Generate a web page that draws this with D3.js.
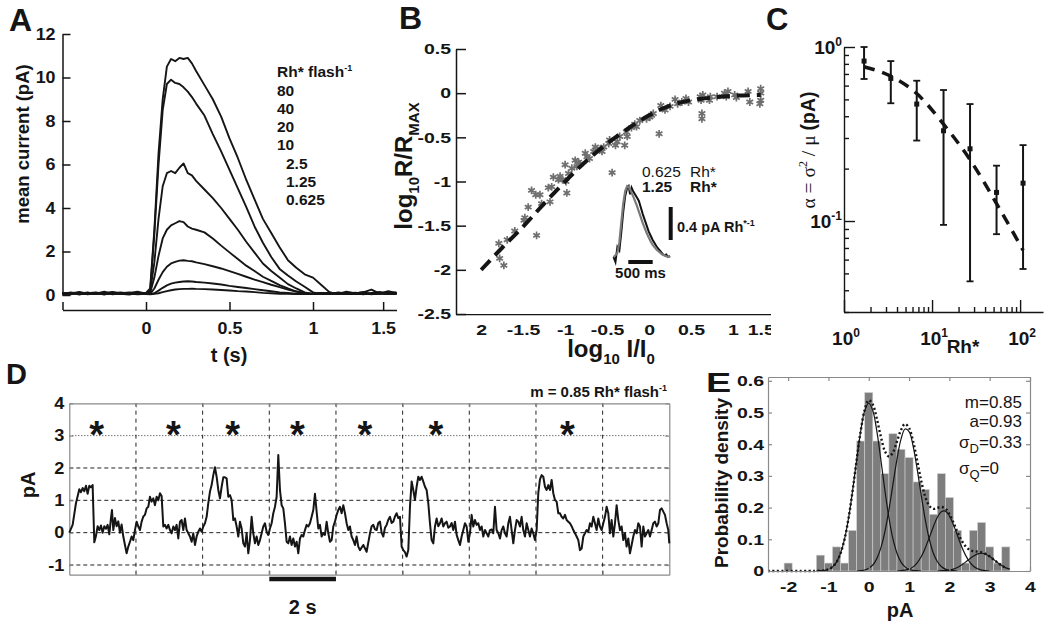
<!DOCTYPE html>
<html><head><meta charset="utf-8">
<script src="https://cdn.jsdelivr.net/npm/d3@7"></script>
<style>body{margin:0;background:#fff}svg{display:block}</style>
</head><body><svg id="c" width="1050" height="637"></svg>
<script>
// ================= DATA =================
// Panel A: mean current traces (pA) vs time (s)
const aTime = [-0.5,-0.45,-0.4,-0.35,-0.3,-0.25,-0.2,-0.15,-0.1,-0.05,0,
  0.025,0.05,0.075,0.1,0.125,0.15,0.175,0.2,0.225,0.25,0.275,0.3,
  0.35,0.4,0.45,0.5,0.55,0.6,0.65,0.7,0.75,0.8,0.85,0.9,0.95,1.0,1.05,1.1,1.15,1.2,1.25,1.3,1.35,1.4,1.45,1.5];
const a80 = [0.05,0.12,0.02,0.1,0.06,0.15,0.03,0.08,0.12,0.04,0.1,
  0.3,3.0,6.5,9.0,10.5,10.85,10.75,10.9,10.85,10.9,10.65,10.3,
  9.65,9.0,8.2,7.2,6.3,5.3,4.4,3.5,2.85,2.2,1.6,1.25,0.95,0.8,0.46,0.12,0.05,0.15,0.08,0.12,0.25,0.06,0.18,0.1];
const a40 = [0.1,0.03,0.14,0.06,0.1,0.02,0.12,0.05,0.1,0.15,0.06,
  0.2,2.8,6.0,8.5,9.7,9.9,9.75,9.7,9.55,9.35,9.1,8.8,
  8.25,7.4,6.6,5.75,4.9,4.05,3.15,2.4,1.75,1.2,0.9,0.62,0.38,0.12,0.05,0.12,0.04,0.1,0.06,0.14,0.03,0.1,0.08,0.12];
const a20 = [0.08,0.1,0.05,0.12,0.04,0.09,0.14,0.06,0.02,0.1,0.08,
  0.15,1.5,3.5,5.0,5.6,5.7,5.6,5.85,6.05,5.6,5.5,5.25,
  4.85,4.45,4.0,3.5,3.0,2.45,1.95,1.45,1.1,0.8,0.5,0.3,0.12,0.05,0.1,0.04,0.12,0.07,0.1,0.03,0.09,0.14,0.05,0.1];
const a10 = [0.04,0.09,0.12,0.03,0.08,0.05,0.1,0.12,0.06,0.08,0.05,
  0.1,0.8,1.8,2.6,3.0,3.2,3.3,3.4,3.35,3.15,3.05,3.0,
  2.88,2.6,2.27,1.96,1.65,1.35,1.1,0.84,0.65,0.45,0.3,0.16,0.07,0.05,0.1,0.06,0.09,0.04,0.11,0.07,0.05,0.09,0.12,0.06];
const a2_5 = [0.06,0.04,0.1,0.08,0.12,0.05,0.07,0.1,0.04,0.06,0.05,
  0.05,0.3,0.7,1.05,1.3,1.45,1.52,1.58,1.6,1.57,1.55,1.5,
  1.42,1.32,1.22,1.1,0.97,0.84,0.71,0.59,0.47,0.36,0.25,0.16,0.09,0.05,0.08,0.05,0.1,0.06,0.04,0.08,0.06,0.1,0.05,0.07];
const a1_25 = [0.07,0.05,0.08,0.04,0.1,0.06,0.05,0.09,0.07,0.03,0.05,
  0.04,0.08,0.2,0.33,0.44,0.52,0.57,0.6,0.62,0.63,0.62,0.6,
  0.57,0.53,0.48,0.42,0.37,0.32,0.27,0.22,0.17,0.12,0.09,0.06,0.05,0.04,0.07,0.05,0.06,0.08,0.04,0.06,0.05,0.07,0.06,0.05];
const a0_625 = [0.05,0.08,0.06,0.07,0.04,0.1,0.06,0.04,0.08,0.06,0.04,
  0.03,0.05,0.08,0.13,0.18,0.22,0.25,0.27,0.28,0.28,0.29,0.28,
  0.27,0.25,0.23,0.21,0.18,0.16,0.13,0.1,0.08,0.06,0.05,0.04,0.04,0.05,0.04,0.06,0.05,0.04,0.06,0.05,0.04,0.06,0.05,0.04];
const aLegendLabels = ['80','40','20','10','2.5','1.25','0.625'];
const aYTicks = [0,2,4,6,8,10,12];
const aXTicks = [-0.5,0,0.5,1,1.42];
const aXTickLabels = ['','0','0.5','1','1.5'];

// Panel B: log10 R/Rmax vs log10 I/I0
const bScatter = [[-1.79,-1.70],[-1.78,-1.87],[-1.73,-1.95],[-1.69,-1.66],[-1.60,-1.56],[-1.49,-1.44],[-1.48,-1.41],
  [-1.44,-1.29],[-1.40,-1.10],[-1.35,-1.15],[-1.34,-1.61],[-1.30,-1.15],[-1.28,-1.25],[-1.20,-1.07],[-1.18,-1.23],
  [-1.16,-1.06],[-1.14,-0.95],[-1.08,-0.98],[-1.06,-0.94],[-1.03,-0.98],[-1.00,-0.81],[-0.99,-1.0],[-0.98,-1.13],
  [-0.96,-0.91],[-0.92,-0.85],[-0.88,-0.76],[-0.86,-0.83],[-0.84,-0.78],[-0.82,-0.80],[-0.76,-0.68],[-0.74,-0.72],
  [-0.71,-0.74],[-0.66,-0.66],[-0.64,-0.61],[-0.58,-0.63],[-0.56,-0.66],[-0.54,-0.61],[-0.48,-0.57],[-0.47,-0.53],
  [-0.44,-0.90],[-0.40,-0.59],[-0.38,-0.55],[-0.35,-0.49],[-0.29,-0.59],[-0.27,-0.44],[-0.26,-0.49],[-0.21,-0.39],
  [-0.17,-0.35],[-0.15,-0.38],[-0.11,-0.31],[-0.03,-0.29],[0.01,-0.27],[0.03,-0.25],[0.05,-0.23],[0.12,-0.46],
  [0.14,-0.14],[0.19,-0.19],[0.25,-0.15],[0.31,-0.07],[0.34,-0.12],[0.39,-0.10],[0.44,-0.06],[0.47,-0.10],
  [0.61,-0.04],[0.62,-0.08],[0.63,-0.23],[0.63,-0.29],[0.64,-0.02],[0.72,-0.08],[0.73,-0.04],[0.81,-0.04],
  [0.90,0.00],[0.92,-0.04],[0.94,0.02],[1.02,-0.02],[1.04,-0.05],[1.18,0.02],[1.20,-0.10],[1.33,0.05],
  [1.33,0.00],[1.33,-0.08],[1.32,-0.12]];
const bFitX = [-2,-1.75,-1.5,-1.25,-1,-0.75,-0.5,-0.25,0,0.25,0.5,0.75,1,1.33];
const bFitY = [-2,-1.75,-1.51,-1.25,-1.0,-0.77,-0.57,-0.4,-0.25,-0.14,-0.08,-0.05,-0.03,-0.02];
const bYTicks = [-2.5,-2,-1.5,-1,-0.5,0,0.5];
const bXTicks = [-2,-1.5,-1,-0.5,0,0.5,1,1.33];
const bXTickLabels = ['2','-1.5','-1','-0.5','0','0.5','1','1.5'];
// Panel B inset: normalised responses (pA per Rh*) vs time (ms)
const insetTime = [0,40,80,120,160,200,240,280,310,340,370,400,440,480,520,560,600,640,680,720,760,800,840,880,920,960,1000,1040,1080,1120,1160];
const inset1_25 = [0.0,-0.06,0.12,0.08,0.3,0.55,0.74,0.84,0.86,0.76,0.84,0.8,0.76,0.72,0.68,0.6,0.52,0.45,0.38,0.31,0.26,0.21,0.17,0.13,0.1,0.07,0.04,0.02,0.03,0.0,0.01];
const inset0_625 = [0.0,0.02,0.05,0.18,0.42,0.65,0.8,0.86,0.85,0.82,0.78,0.74,0.68,0.62,0.55,0.48,0.41,0.35,0.29,0.24,0.19,0.15,0.12,0.09,0.07,0.05,0.03,0.02,0.01,0.0,0.0];

// Panel C: alpha vs Rh*
const cRh = [1.69,3.4,6.7,13.5,27,54,108];
const cAlpha = [0.83,0.66,0.47,0.33,0.26,0.146,0.165];
const cLow = [0.655,0.475,0.29,0.095,0.045,0.084,0.053];
const cHigh = [1.0,0.83,0.64,0.566,0.47,0.208,0.273];
const cFit = [0.77,0.68,0.54,0.36,0.225,0.126,0.068];
const cYMajor = [0.1,1];
const cYMajorExp = ['-1','0'];
const cYMinor = [0.03,0.04,0.05,0.06,0.07,0.08,0.09,0.2,0.3,0.4,0.5,0.6,0.7,0.8,0.9];
const cXMajor = [1,10,100];
const cXMajorExp = ['0','1','2'];
const cXMinor = [2,3,4,5,6,7,8,9,20,30,40,50,60,70,80,90];

// Panel D: current trace (pA) vs time (s)
const dTrace = [[0,0],[0.1,0.24],[0.2,0.91],[0.3,1.34],[0.35,1.25],[0.4,1.38],[0.45,1.28],[0.5,1.45],[0.55,1.2],[0.6,1.45],[0.65,1.4],[0.7,1.47],[0.75,-0.3],[0.8,-0.1],[0.85,0.2],[0.9,0.08],[0.95,0.22],[1.0,0.0],[1.05,0.2],[1.1,0.12],[1.15,0.24],[1.2,-0.05],[1.25,0.45],[1.28,0.7],[1.32,0.08],[1.37,0.45],[1.42,0.2],[1.47,0.35],[1.52,0],[1.57,0.25],[1.62,-0.12],[1.67,-0.38],[1.72,-0.64],[1.77,-0.43],[1.82,-0.28],[1.87,-0.12],[1.92,-0.23],[1.97,0.08],
[2.02,0.34],[2.07,0.19],[2.12,0.08],[2.17,0.34],[2.22,0.5],[2.27,0.55],[2.32,0.75],[2.37,0.8],[2.42,1.11],[2.47,0.96],[2.52,1.06],[2.57,0.85],[2.62,1.11],[2.67,1.0],[2.72,1.22],[2.77,1.13],[2.82,0.19],[2.87,0.24],[2.92,0.13],[2.97,0.24],[3.02,0.08],[3.07,-0.02],[3.12,0.19],[3.17,0.08],[3.22,0.24],[3.27,-0.18],[3.32,0.34],[3.37,0.39],[3.42,0.08],[3.47,0.44],[3.52,0.08],[3.57,-0.02],[3.62,-0.12],[3.67,-0.28],[3.72,-0.02],[3.77,-0.38],[3.82,-0.12],[3.87,0.03],[3.92,0.13],[3.97,0.03],
[4.02,0.19],[4.07,0.29],[4.12,0.49],[4.17,0.91],[4.22,1.27],[4.27,1.47],[4.32,1.78],[4.37,2.02],[4.42,1.73],[4.47,1.32],[4.52,1.06],[4.57,1.42],[4.62,1.71],[4.67,1.71],[4.72,1.68],[4.77,1.11],[4.82,1.16],[4.87,1.01],[4.92,0.39],[4.97,0.44],[5.02,0.19],[5.07,-0.12],[5.12,0.34],[5.17,0.13],[5.22,-0.33],[5.27,-0.43],[5.32,-0.02],[5.37,-0.64],[5.42,-0.23],[5.47,0.49],[5.52,-0.02],[5.57,-0.33],[5.62,-0.12],[5.67,-0.38],[5.72,-0.23],[5.77,-0.02],[5.82,0.19],[5.87,0.29],[5.92,0.03],[5.97,-0.07],
[6.02,0.13],[6.07,0.29],[6.12,0.6],[6.17,0.8],[6.22,1.11],[6.27,2.4],[6.32,1.32],[6.37,0.85],[6.42,0.75],[6.47,0.29],[6.52,-0.28],[6.57,-0.33],[6.62,-0.12],[6.67,-0.38],[6.72,-0.18],[6.77,-0.43],[6.82,-0.28],[6.87,-0.64],[6.92,-0.18],[6.97,-0.07],[7.02,-0.12],[7.07,0.08],[7.12,0.24],[7.17,0.19],[7.22,0.29],[7.27,0.49],[7.32,0.7],[7.37,1.2],[7.42,0.65],[7.47,0.13],[7.52,0.24],[7.57,-0.12],[7.62,-0.02],[7.67,-0.07],[7.72,0.34],[7.77,-0.02],[7.82,-0.28],[7.87,-0.23],[7.92,0.19],[7.97,0.34],
[8.02,0.55],[8.07,0.7],[8.12,0.8],[8.17,0.6],[8.22,0.85],[8.27,0.6],[8.32,0.29],[8.37,0.08],[8.42,0.19],[8.47,-0.12],[8.52,-0.23],[8.57,-0.38],[8.62,-0.12],[8.67,-0.43],[8.72,-0.54],[8.82,-0.38],[8.92,-0.59],[9.02,-0.02],[9.07,0.2],[9.12,0.24],[9.17,0.1],[9.22,0.08],[9.27,0.3],[9.32,0.34],[9.37,0.0],[9.42,-0.12],[9.47,0.15],[9.52,0.24],[9.57,0.4],[9.62,0.49],[9.67,0.3],[9.72,0.34],[9.77,0.5],[9.82,0.6],[9.87,0.45],[9.92,0.49],[9.97,-0.43],
[10.02,-0.54],[10.07,-0.6],[10.12,-0.74],[10.17,-0.54],[10.22,0.8],[10.27,1.58],[10.32,1.32],[10.37,1.01],[10.42,1.42],[10.47,1.73],[10.52,1.63],[10.57,1.73],[10.62,1.58],[10.67,1.42],[10.72,1.32],[10.77,0.91],[10.82,0.29],[10.87,-0.23],[10.92,-0.33],[10.97,0.19],[11.02,0.44],[11.07,0.2],[11.12,0.29],[11.17,0.44],[11.22,0.19],[11.27,0.29],[11.32,0.34],[11.37,0.15],[11.42,0.19],[11.47,0.3],[11.52,0.08],[11.57,0.34],[11.62,-0.07],[11.67,-0.23],[11.72,-0.38],[11.77,-0.12],[11.82,0.08],[11.87,0.29],[11.92,0.19],[11.97,-0.28],
[12.02,-0.02],[12.07,0.55],[12.12,0.19],[12.17,0.39],[12.22,0.24],[12.27,0.29],[12.32,0.08],[12.37,0.19],[12.42,-0.12],[12.47,0.08],[12.52,-0.02],[12.57,-0.12],[12.62,0.08],[12.67,0.1],[12.72,-0.02],[12.77,0.8],[12.82,0.08],[12.87,-0.02],[12.92,-0.18],[12.97,0.08],[13.02,0.19],[13.07,-0.02],[13.12,-0.12],[13.17,0.29],[13.22,0.49],[13.27,0.08],[13.32,-0.33],[13.37,0.08],[13.42,0.39],[13.47,0.34],[13.52,0.19],[13.57,0.49],[13.62,0.08],[13.67,-0.12],[13.72,0.29],[13.77,0.08],[13.82,-0.12],[13.87,0.13],[13.92,-0.02],[13.97,-0.23],
[14.02,0.08],[14.07,1.22],[14.12,1.65],[14.17,1.78],[14.22,1.73],[14.27,1.42],[14.32,1.32],[14.37,1.47],[14.42,1.32],[14.47,1.63],[14.52,1.22],[14.57,1.01],[14.62,0.96],[14.67,0.6],[14.72,0.6],[14.77,0.49],[14.82,0.44],[14.87,0.55],[14.92,0.39],[14.97,0.34],[15.02,0.29],[15.07,0.2],[15.12,0.08],[15.17,-0.02],[15.22,-0.12],[15.27,-0.23],[15.32,-0.54],[15.37,-0.49],[15.42,-0.12],[15.47,-0.02],[15.52,0.08],[15.57,0.03],[15.62,0.29],[15.67,0.19],[15.72,0.49],[15.77,0.29],[15.82,0.08],[15.87,0.44],[15.92,0.19],[15.97,0.08],
[16.02,0.29],[16.07,0.49],[16.12,0.8],[16.17,0.6],[16.22,-0.02],[16.27,0.39],[16.32,-0.12],[16.37,0.29],[16.42,0.85],[16.47,0.39],[16.52,0.08],[16.57,0.19],[16.62,-0.23],[16.67,-0.02],[16.72,-0.43],[16.77,-0.18],[16.82,-0.64],[16.87,-0.38],[16.92,-0.12],[16.97,0.08],[17.02,-0.02],[17.07,0.29],[17.12,0.19],[17.17,-0.43],[17.22,0.19],[17.27,-0.12],[17.32,-0.02],[17.37,0.08],[17.42,-0.12],[17.47,0.08],[17.52,0.29],[17.57,0.34],[17.62,0.19],[17.67,0.29],[17.72,0.7],[17.77,0.75],[17.82,0.65],[17.87,0.55],[17.92,0.29],[17.97,0.08],[18.0,-0.33]];
const dStars = [0.82,3.12,4.9,6.84,8.87,11.0,14.94];
const dYTicks = [-1,0,1,2,3,4];
const dGridYDashed = [-1,0,1,2];
const dGridYDotted = [3];
const dGridX = [2,4,6,8,10,12,14,16];
const dScaleBar = [6,8];

// Panel E: amplitude histogram (probability density) and fits
const eBinWidth = 0.2;
const eBinCenters = [-2.0,-1.2,-1.0,-0.8,-0.6,-0.4,-0.2,0.0,0.2,0.4,0.6,0.8,1.0,1.2,1.4,1.6,1.8,2.0,2.2,2.4,2.6,2.8,3.0,3.2,3.4];
const eDensity = [0.025,0.05,0.025,0.076,0.025,0.128,0.41,0.563,0.41,0.307,0.433,0.384,0.358,0.281,0.257,0.179,0.307,0.232,0.128,0.025,0.128,0.153,0.076,0.025,0.076];
const eComp0 = [[-1.3,0],[-1.2,0.001],[-1.1,0.002],[-1.0,0.005],[-0.9,0.013],[-0.8,0.028],[-0.7,0.056],[-0.6,0.101],[-0.5,0.168],[-0.4,0.254],[-0.3,0.351],[-0.2,0.441],[-0.1,0.506],[0,0.53],[0.1,0.506],[0.2,0.441],[0.3,0.351],[0.4,0.254],[0.5,0.168],[0.6,0.101],[0.7,0.056],[0.8,0.028],[0.9,0.013],[1.0,0.005],[1.1,0.002],[1.2,0.001],[1.3,0]];
const eComp1 = [[-0.3,0],[-0.2,0.001],[-0.1,0.003],[0,0.009],[0.1,0.019],[0.2,0.039],[0.3,0.073],[0.4,0.124],[0.5,0.193],[0.6,0.273],[0.7,0.353],[0.8,0.416],[0.9,0.448],[1.0,0.44],[1.1,0.394],[1.2,0.322],[1.3,0.24],[1.4,0.163],[1.5,0.101],[1.6,0.057],[1.7,0.03],[1.8,0.014],[1.9,0.006],[2.0,0.002],[2.1,0.001],[2.2,0]];
const eComp2 = [[0.7,0],[0.8,0.001],[0.9,0.003],[1.0,0.006],[1.1,0.013],[1.2,0.026],[1.3,0.045],[1.4,0.072],[1.5,0.105],[1.6,0.139],[1.7,0.169],[1.8,0.187],[1.9,0.189],[2.0,0.174],[2.1,0.146],[2.2,0.112],[2.3,0.078],[2.4,0.05],[2.5,0.029],[2.6,0.015],[2.7,0.007],[2.8,0.003],[2.9,0.001],[3.0,0]];
const eComp3 = [[1.7,0],[1.8,0.001],[1.9,0.002],[2.0,0.003],[2.1,0.006],[2.2,0.011],[2.3,0.019],[2.4,0.028],[2.5,0.038],[2.6,0.047],[2.7,0.054],[2.8,0.056],[2.9,0.053],[3.0,0.046],[3.1,0.036],[3.2,0.026],[3.3,0.017],[3.4,0.01],[3.5,0.006]];
const eSum = [[-2.5,0],[-1.4,0],[-1.3,0],[-1.2,0.001],[-1.1,0.002],[-1.0,0.005],[-0.9,0.013],[-0.8,0.028],[-0.7,0.056],[-0.6,0.101],[-0.5,0.168],[-0.4,0.254],[-0.3,0.351],[-0.2,0.442],[-0.1,0.509],[0,0.539],[0.1,0.525],[0.2,0.48],[0.3,0.424],[0.4,0.378],[0.5,0.361],[0.6,0.374],[0.7,0.409],[0.8,0.445],[0.9,0.464],[1.0,0.451],[1.1,0.409],[1.2,0.349],[1.3,0.285],[1.4,0.235],[1.5,0.206],[1.6,0.196],[1.7,0.199],[1.8,0.202],[1.9,0.197],[2.0,0.179],[2.1,0.153],[2.2,0.123],[2.3,0.097],[2.4,0.078],[2.5,0.067],[2.6,0.062],[2.7,0.061],[2.8,0.059],[2.9,0.054],[3.0,0.046],[3.1,0.036],[3.2,0.026],[3.3,0.017],[3.4,0.010]];
const eXTicks = [-2,-1,0,1,2,3,4];
const eYTicks = [0,0.1,0.2,0.3,0.4,0.5,0.6];

// ================= DRAWING =================
const svg = d3.select('#c');
svg.append('rect').attr('width',1050).attr('height',637).attr('fill','#fff');
const FONT = "'Liberation Sans', Arial, Helvetica, sans-serif";
const SERIF = "'Liberation Serif', 'DejaVu Serif', serif";
const INK = '#151515';

function txt(g, x, y, parts, o = {}) {
  const size = o.size || 16;
  let tr = `translate(${x},${y})`;
  if (o.rot) tr += ` rotate(${o.rot})`;
  if (o.sx) tr += ` scale(${o.sx},1)`;
  const t = g.append('text').attr('transform', tr)
    .attr('text-anchor', o.anchor || 'start')
    .attr('font-family', o.family || FONT)
    .attr('font-size', size)
    .attr('font-weight', o.weight || 'bold')
    .attr('fill', o.fill || INK);
  if (typeof parts === 'string') parts = [{t: parts}];
  let shift = 0;
  parts.forEach(p => {
    const s = p.size || ((p.sub || p.sup) ? Math.round(size * 0.62) : size);
    const target = p.sub ? size * 0.3 : (p.sup ? -size * 0.42 : 0);
    const ts = t.append('tspan').text(p.t).attr('font-size', s);
    if (target !== shift) { ts.attr('dy', target - shift); shift = target; }
    if (p.family) ts.attr('font-family', p.family);
    if (p.weight) ts.attr('font-weight', p.weight);
  });
  return t;
}
function styleAxis(g, o = {}) {
  const col = o.color || INK, w = o.width || 1.5;
  g.select('.domain').attr('stroke', col).attr('stroke-width', w);
  g.selectAll('.tick line').attr('stroke', col).attr('stroke-width', w);
  g.selectAll('.tick text').attr('font-family', FONT).attr('font-size', o.size || 16)
    .attr('font-weight', 'bold').attr('fill', INK);
  if (o.sx) g.selectAll('.tick text').each(function(){
    const el = d3.select(this); const x = +el.attr('x') || 0; const y = +el.attr('y') || 0;
    el.attr('transform', `translate(${x},${y}) scale(${o.sx},1)`).attr('x', 0).attr('y', 0);
  });
}

// ---------- Panel A ----------
const gA = svg.append('g');
const aX = d3.scaleLinear().domain([-0.5, 1.5]).range([62.5, 396.5]);
const aY = d3.scaleLinear().domain([0, 12]).range([295, 34]);
const aAxY = gA.append('g').attr('transform', 'translate(62.5,0)')
  .call(d3.axisLeft(aY).tickValues(aYTicks).tickSizeInner(-8).tickSizeOuter(0).tickPadding(7).tickFormat(d => String(d)));
styleAxis(aAxY, {size: 17, sx: 1.05});
const aAxX = gA.append('g').attr('transform', 'translate(0,310)')
  .call(d3.axisBottom(aX).tickValues(aXTicks).tickSizeInner(-8).tickSizeOuter(0).tickPadding(12)
    .tickFormat((d, i) => aXTickLabels[i]));
styleAxis(aAxX, {size: 17, sx: 1.05});
const aSeries = [a80, a40, a20, a10, a2_5, a1_25, a0_625];
const aLine = d3.line().x((d, i) => aX(aTime[i])).y(d => aY(d));
gA.selectAll('path.curve').data(aSeries).join('path').attr('class', 'curve')
  .attr('d', aLine).attr('fill', 'none').attr('stroke', INK).attr('stroke-width', 1.9).attr('stroke-linejoin', 'round');
txt(gA, 277, 77, [{t: 'Rh* flash'}, {t: '-1', sup: true, size: 9}], {size: 15.5});
aLegendLabels.forEach((l, i) => txt(gA, i < 4 ? 277 : 286, 95.5 + i * 18.3, l, {size: 15.5}));
txt(gA, 29, 144, 'mean current (pA)', {size: 18.5, rot: -90, anchor: 'middle'});
txt(gA, 229, 362, 't (s)', {size: 20, anchor: 'middle'});
txt(svg, 9, 31, 'A', {size: 32});

// ---------- Panel B ----------
const gB = svg.append('g');
const bX = d3.scaleLinear().domain([-2.3, 1.56]).range([456, 780]);
const bY = d3.scaleLinear().domain([-2.5, 0.5]).range([314, 49]);
const bAxY = gB.append('g').attr('transform', 'translate(456,0)')
  .call(d3.axisLeft(bY).tickValues(bYTicks).tickSizeInner(-10).tickSizeOuter(0).tickPadding(5).tickFormat(d => String(d)));
styleAxis(bAxY, {size: 15, sx: 1.3});
svg.append('defs').append('clipPath').attr('id', 'clipB').append('rect')
  .attr('x', 380).attr('y', 0).attr('width', 391).attr('height', 637);
const bAxX = gB.append('g').attr('transform', 'translate(0,314)').attr('clip-path', 'url(#clipB)')
  .call(d3.axisBottom(bX).tickValues(bXTicks).tickSizeInner(-13).tickSizeOuter(0).tickPadding(10)
    .tickFormat((d, i) => bXTickLabels[i]));
styleAxis(bAxX, {size: 15, sx: 1.3});
bAxX.selectAll('.tick').filter((d, i) => i === bXTicks.length - 1).select('line').attr('y2', -4);
const bStar = d3.symbol().type(d3.symbolAsterisk).size(42);
gB.selectAll('path.star').data(bScatter).join('path').attr('class', 'star')
  .attr('transform', d => `translate(${bX(d[0])},${bY(d[1])})`).attr('d', bStar)
  .attr('fill', 'none').attr('stroke', '#6f6f6f').attr('stroke-width', 1.7);
gB.append('path').datum(bFitX.map((x, i) => [x, bFitY[i]]))
  .attr('d', d3.line().x(d => bX(d[0])).y(d => bY(d[1])).curve(d3.curveMonotoneX))
  .attr('fill', 'none').attr('stroke', INK).attr('stroke-width', 4).attr('stroke-dasharray', '13,7');
// inset
const insX = d3.scaleLinear().domain([0, 500]).range([613.5, 637.9]);
const insY = d3.scaleLinear().domain([0, 0.4]).range([257, 224]);
const insLine = d3.line().x((d, i) => insX(insetTime[i])).y(d => insY(d));
gB.append('path').datum(inset1_25).attr('d', insLine).attr('fill', 'none').attr('stroke', '#111').attr('stroke-width', 2);
gB.append('path').datum(inset0_625).attr('d', insLine).attr('fill', 'none').attr('stroke', '#7a7a7a').attr('stroke-width', 2.2);
const sbLenX = insX(500) - insX(0), sbLenY = insY(0) - insY(0.4);
gB.append('line').attr('x1', 628.3).attr('x2', 628.3 + sbLenX).attr('y1', 262).attr('y2', 262).attr('stroke', '#111').attr('stroke-width', 4);
gB.append('line').attr('x1', 670.7).attr('x2', 670.7).attr('y1', 207).attr('y2', 207 + sbLenY).attr('stroke', '#111').attr('stroke-width', 4);
txt(gB, 640.5, 278, '500 ms', {size: 15, anchor: 'middle'});
txt(gB, 677, 232, [{t: '0.4 pA Rh'}, {t: '*-1', sup: true, size: 9}], {size: 14.5});
txt(gB, 642, 177, '0.625', {size: 15.5, weight: 'normal'});
txt(gB, 690, 177, 'Rh*', {size: 15.5, weight: 'normal'});
txt(gB, 642, 192, '1.25', {size: 15.5});
txt(gB, 690, 192, 'Rh*', {size: 15.5});
txt(gB, 412, 166, [{t: 'log'}, {t: '10', sub: true, size: 15}, {t: 'R/R'}, {t: 'MAX', sub: true, size: 15}], {size: 24, rot: -90, anchor: 'middle'});
txt(gB, 611, 357, [{t: 'log'}, {t: '10', sub: true, size: 15}, {t: ' I/I'}, {t: '0', sub: true, size: 15}], {size: 24, anchor: 'middle'});
txt(svg, 399, 29, 'B', {size: 32});

// ---------- Panel C ----------
const gC = svg.append('g');
const cX = d3.scaleLog().domain([1, Math.pow(10, 2.26)]).range([844, 1043]);
const cY = d3.scaleLog().domain([0.03, 1]).range([312, 47]);
const cAxY = gC.append('g').attr('transform', 'translate(844,0)')
  .call(d3.axisLeft(cY).tickValues(cYMinor.concat(cYMajor)).tickSizeInner(-5).tickSizeOuter(0).tickFormat(''));
styleAxis(cAxY, {width: 1.4});
cAxY.selectAll('.tick').filter(d => cYMajor.includes(d)).select('line').attr('x2', 11);
const cAxX = gC.append('g').attr('transform', 'translate(0,312)')
  .call(d3.axisBottom(cX).tickValues(cXMinor.concat(cXMajor)).tickSizeInner(-5).tickSizeOuter(0).tickFormat(''));
styleAxis(cAxX, {width: 1.4});
cAxX.selectAll('.tick').filter(d => cXMajor.includes(d)).select('line').attr('y2', -12);
cYMajor.forEach((v, i) => txt(gC, 842, cY(v) + 7, [{t: '10'}, {t: cYMajorExp[i], sup: true, size: 12}], {size: 19, anchor: 'end'}));
cXMajor.forEach((v, i) => txt(gC, cX(v) + 2, 345, [{t: '10'}, {t: cXMajorExp[i], sup: true, size: 12}], {size: 19, anchor: 'middle'}));
gC.append('path').datum(cRh.map((x, i) => [x, cFit[i]]))
  .attr('d', d3.line().x(d => cX(d[0])).y(d => cY(d[1])).curve(d3.curveMonotoneX))
  .attr('fill', 'none').attr('stroke', INK).attr('stroke-width', 3.5).attr('stroke-dasharray', '11,8');
const cG = gC.selectAll('g.eb').data(cRh).join('g').attr('class', 'eb');
cG.append('line').attr('x1', d => cX(d)).attr('x2', d => cX(d)).attr('y1', (d, i) => cY(cLow[i])).attr('y2', (d, i) => cY(cHigh[i]))
  .attr('stroke', INK).attr('stroke-width', 2);
cG.append('line').attr('x1', d => cX(d) - 3.5).attr('x2', d => cX(d) + 3.5).attr('y1', (d, i) => cY(cLow[i])).attr('y2', (d, i) => cY(cLow[i]))
  .attr('stroke', INK).attr('stroke-width', 1.8);
cG.append('line').attr('x1', d => cX(d) - 3.5).attr('x2', d => cX(d) + 3.5).attr('y1', (d, i) => cY(cHigh[i])).attr('y2', (d, i) => cY(cHigh[i]))
  .attr('stroke', INK).attr('stroke-width', 1.8);
cG.append('rect').attr('x', d => cX(d) - 2.5).attr('y', (d, i) => cY(cAlpha[i]) - 2.5).attr('width', 5).attr('height', 5).attr('fill', INK);
txt(gC, 815, 150, [{t: 'α = σ', family: SERIF, weight: 'normal'}, {t: '2', sup: true, size: 12, family: SERIF, weight: 'normal'},
  {t: ' / μ ', family: SERIF, weight: 'normal'}, {t: '(pA)'}], {size: 19.5, rot: -90, anchor: 'middle'});
txt(gC, 963, 353, 'Rh*', {size: 19, anchor: 'middle'});
txt(svg, 766, 30, 'C', {size: 31});

// ---------- Panel D ----------
const gD = svg.append('g');
const dX = d3.scaleLinear().domain([0, 18]).range([69.3, 669.3]);
const dY = d3.scaleLinear().domain([-1.3, 4]).range([574.7, 403.3]);
gD.selectAll('line.gy').data(dGridYDashed).join('line').attr('class', 'gy')
  .attr('x1', dX(0)).attr('x2', dX(18)).attr('y1', d => dY(d)).attr('y2', d => dY(d))
  .attr('stroke', '#222').attr('stroke-width', 1).attr('stroke-dasharray', '4,3');
gD.selectAll('line.gyd').data(dGridYDotted).join('line').attr('class', 'gyd')
  .attr('x1', dX(0)).attr('x2', dX(18)).attr('y1', d => dY(d)).attr('y2', d => dY(d))
  .attr('stroke', '#333').attr('stroke-width', 1).attr('stroke-dasharray', '1,2');
gD.selectAll('line.gx').data(dGridX).join('line').attr('class', 'gx')
  .attr('x1', d => dX(d)).attr('x2', d => dX(d)).attr('y1', dY(-1.3)).attr('y2', dY(4))
  .attr('stroke', '#222').attr('stroke-width', 1).attr('stroke-dasharray', '4,4');
const dAxL = gD.append('g').attr('transform', `translate(${dX(0)},0)`)
  .call(d3.axisLeft(dY).tickValues(dYTicks).tickSizeInner(-4).tickSizeOuter(0).tickPadding(5).tickFormat(d => String(d)));
styleAxis(dAxL, {size: 16.5, sx: 1.1, color: '#8a8a8a', width: 1.2});
const dAxR = gD.append('g').attr('transform', `translate(${dX(18)},0)`)
  .call(d3.axisRight(dY).tickValues(dYTicks).tickSizeInner(-4).tickSizeOuter(0).tickFormat(''));
styleAxis(dAxR, {color: '#8a8a8a', width: 1.2});
const dAxT = gD.append('g').attr('transform', `translate(0,${dY(4)})`)
  .call(d3.axisTop(dX).tickValues(dGridX).tickSizeInner(-4).tickSizeOuter(0).tickFormat(''));
styleAxis(dAxT, {color: '#8a8a8a', width: 1.2});
const dAxB = gD.append('g').attr('transform', `translate(0,${dY(-1.3)})`)
  .call(d3.axisBottom(dX).tickValues(dGridX).tickSizeInner(-4).tickSizeOuter(0).tickFormat(''));
styleAxis(dAxB, {color: '#8a8a8a', width: 1.2});
gD.append('path').datum(dTrace).attr('d', d3.line().x(d => dX(d[0])).y(d => dY(d[1])))
  .attr('fill', 'none').attr('stroke', INK).attr('stroke-width', 2).attr('stroke-linejoin', 'round');
dStars.forEach(t => txt(gD, dX(t), 448, '*', {size: 38, anchor: 'middle'}));
gD.append('line').attr('x1', dX(dScaleBar[0])).attr('x2', dX(dScaleBar[1])).attr('y1', 579).attr('y2', 579)
  .attr('stroke', INK).attr('stroke-width', 4.5);
txt(gD, dX((dScaleBar[0] + dScaleBar[1]) / 2), 614, '2 s', {size: 20, anchor: 'middle'});
txt(gD, 667, 397, [{t: 'm = 0.85 Rh* flash'}, {t: '-1', sup: true, size: 9}], {size: 15, anchor: 'end'});
txt(gD, 35, 485, 'pA', {size: 20, rot: -90, anchor: 'middle'});
txt(svg, 6, 384, 'D', {size: 29});

// ---------- Panel E ----------
const gE = svg.append('g');
const eX = d3.scaleLinear().domain([-2.5, 4]).range([768, 1030]);
const eY = d3.scaleLinear().domain([0, 0.612]).range([571, 377]);
gE.selectAll('rect.bar').data(eBinCenters).join('rect').attr('class', 'bar')
  .attr('x', d => eX(d - eBinWidth / 2)).attr('width', d => eX(d + eBinWidth / 2) - eX(d - eBinWidth / 2))
  .attr('y', (d, i) => eY(eDensity[i])).attr('height', (d, i) => eY(0) - eY(eDensity[i]))
  .attr('fill', '#7d7d7d').attr('stroke', '#d0d0d0').attr('stroke-width', 0.6);
const eL = d3.line().x(d => eX(d[0])).y(d => eY(d[1])).curve(d3.curveCatmullRom);
[eComp0, eComp1, eComp2, eComp3].forEach(c => gE.append('path').datum(c).attr('d', eL)
  .attr('fill', 'none').attr('stroke', INK).attr('stroke-width', 1.2));
gE.append('path').datum(eSum).attr('d', eL).attr('fill', 'none').attr('stroke', INK)
  .attr('stroke-width', 2.4).attr('stroke-dasharray', '2,2.5');
const eAxL = gE.append('g').attr('transform', 'translate(768,0)')
  .call(d3.axisLeft(eY).tickValues(eYTicks).tickSizeInner(-4).tickSizeOuter(0).tickPadding(4).tickFormat(d => String(d)));
styleAxis(eAxL, {size: 15, sx: 1.3, color: '#8a8a8a', width: 1.2});
const eAxR = gE.append('g').attr('transform', 'translate(1030,0)')
  .call(d3.axisRight(eY).tickValues(eYTicks).tickSizeInner(-4).tickSizeOuter(0).tickFormat(''));
styleAxis(eAxR, {color: '#8a8a8a', width: 1.2});
const eAxB = gE.append('g').attr('transform', 'translate(0,571)')
  .call(d3.axisBottom(eX).tickValues(eXTicks).tickSizeInner(-4).tickSizeOuter(0).tickPadding(10).tickFormat(d => String(d)));
styleAxis(eAxB, {size: 15, sx: 1.3, color: '#8a8a8a', width: 1.2});
const eAxT = gE.append('g').attr('transform', 'translate(0,377)')
  .call(d3.axisTop(eX).tickValues(eXTicks).tickSizeInner(-4).tickSizeOuter(0).tickFormat(''));
styleAxis(eAxT, {color: '#8a8a8a', width: 1.2});
txt(gE, 1022, 408, 'm=0.85', {size: 17, weight: 'normal', anchor: 'end'});
txt(gE, 1022, 427, 'a=0.93', {size: 17, weight: 'normal', anchor: 'end'});
txt(gE, 1022, 448, [{t: 'σ'}, {t: 'D', sub: true, size: 13}, {t: '=0.33'}], {size: 17, weight: 'normal', anchor: 'end'});
txt(gE, 959, 474, [{t: 'σ'}, {t: 'Q', sub: true, size: 13}, {t: '=0'}], {size: 17, weight: 'normal'});
txt(gE, 728, 483, 'Probability density', {size: 19, rot: -90, anchor: 'middle'});
txt(gE, 900, 617, 'pA', {size: 20, anchor: 'middle'});
txt(svg, 706, 392, 'E', {size: 27, sx: 1.4});
</script></body></html>
